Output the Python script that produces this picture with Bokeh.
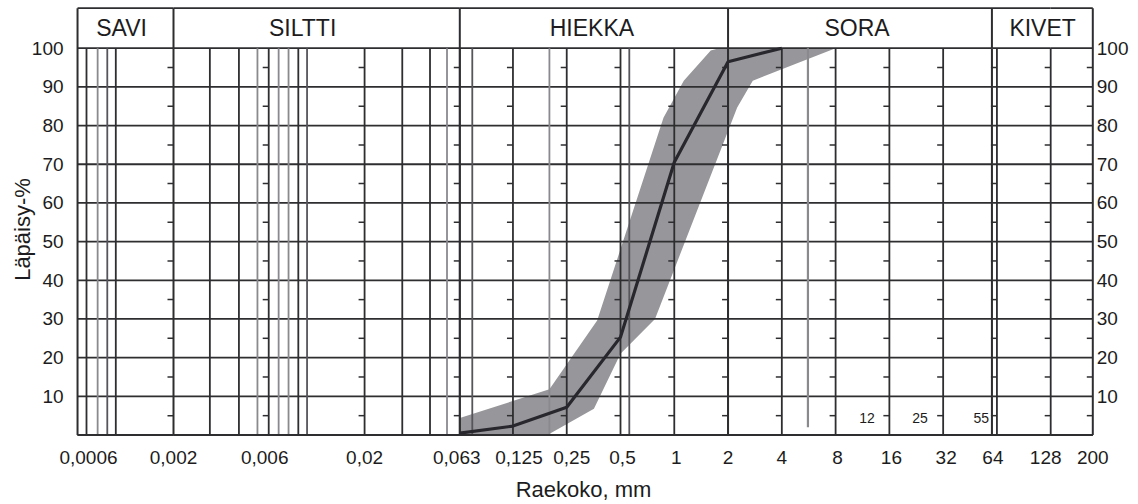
import numpy as np
from bokeh.plotting import figure
from bokeh.models import Range1d, LogScale, Label
from bokeh.core.properties import value
from bokeh.embed import file_html
from bokeh.resources import INLINE

# ---------------- data ----------------
# grading curve: sieve size (mm) -> passing (%)
SIZE_MM = [0.063, 0.125, 0.25, 0.5, 1, 2, 4]
PASSING_PCT = [0.5, 2.3, 7.2, 25.3, 70.5, 96.5, 100]

# grading envelope: fine-side limit and coarse-side limit
ENV_FINE_MM = [0.063, 0.2, 0.37, 0.87, 1.13, 1.6, 1.78, 8]
ENV_FINE_PCT = [4.4, 11.8, 29.6, 82.0, 91.6, 99.4, 100, 100]
ENV_COARSE_MM = [0.063, 0.195, 0.355, 0.5, 0.78, 2.25, 2.75, 8]
ENV_COARSE_PCT = [0, 0, 6.8, 21.0, 30.0, 84.7, 91.6, 100]

# soil classes and their size limits (mm)
CLASS_NAMES = ["SAVI", "SILTTI", "HIEKKA", "SORA", "KIVET"]
CLASS_LIMITS_MM = [0.00053, 0.002, 0.063, 2, 60, 200]

X_TICK_MM = [0.0006, 0.002, 0.006, 0.02, 0.063, 0.125, 0.25, 0.5, 1, 2, 4, 8, 16, 32, 64, 128, 200]
X_TICK_TEXT = ["0,0006", "0,002", "0,006", "0,02", "0,063", "0,125", "0,25", "0,5",
               "1", "2", "4", "8", "16", "32", "64", "128", "200"]
Y_TICKS = [10, 20, 30, 40, 50, 60, 70, 80, 90, 100]

# vertical rulings of the grading form (mm)
GRID_DARK_MM = [0.0006, 0.0009, 0.0031, 0.0044, 0.0063, 0.009, 0.02, 0.0315, 0.044,
                0.063, 0.125, 0.25, 0.5, 1, 2, 4, 8, 16, 32, 64, 128]
GRID_MID_MM = [0.0008, 0.01, 0.074, 0.56]
GRID_LIGHT_MM = [0.0007, 0.0055, 0.0071, 0.008, 0.054, 0.2, 60]
GRID_SHORT_MM = [5.6]
GRID_SHORT_FROM_PCT = 2

# small index marks beside the labelled rulings
MARK_MM = [0.002, 0.0063, 0.02, 0.063, 0.125, 0.25, 0.5, 1, 2, 4, 8, 16, 32, 64, 128, 200]
MARK_PCT = [5, 15, 25, 35, 45, 55, 65, 75, 85, 95]

SIEVE_NOTE_MM = [12, 25, 55]
SIEVE_NOTE_TEXT = ["12", "25", "55"]
SIEVE_NOTE_PCT = 4.4

# ---------------- layout ----------------
W, H = 1138, 504
# the printed size scale is logarithmic, drawn in pieces joined at these sizes
PIECE_MM = [0.0006, 0.002, 0.063, 128, 200]
PIECE_PX = [86.0, 173.0, 459.3, 1050.2, 1092.3]
PIECE_NAMES = ["savi", "siltti", "default", "kivet"]
Y0_PX, Y100_PX, HEAD_TOP_PX = 434.5, 47.7, 7.7
X_TEXT_PX, X_TITLE_PX, Y_TITLE_PX = 457.0, 489.0, 229.0
HEAD_DX = [-4, -14, -2, -3, 4]
X_TEXT_DX = [2, 0, 0, 0, -3, 6, 5, 2, 2, 0, 0, 2, 2, 3, -4, -5, 0]

FONT = value("Liberation Sans")
TXT = "#1c1c20"
DARK, MID, LIGHT = "#2e2e31", "#55555a", "#8a8a8e"
LW = 1.8


def log_range(d0, p0, d1, p1):
    k = (p1 - p0) / (np.log10(d1) - np.log10(d0))
    return 10 ** (np.log10(d0) - p0 / k), 10 ** (np.log10(d0) + (W - p0) / k)


ranges = {}
pieces = []
for i, name in enumerate(PIECE_NAMES):
    ranges[name] = log_range(PIECE_MM[i], PIECE_PX[i], PIECE_MM[i + 1], PIECE_PX[i + 1])
    lo = CLASS_LIMITS_MM[0] if i == 0 else PIECE_MM[i]
    pieces.append((name, lo, PIECE_MM[i + 1]))


def piece_of(d):
    for name, lo, hi in pieces:
        if lo * 0.999 <= d <= hi * 1.001:
            return name
    return "default"


def split(xs, *cols):
    out = {}
    for i, d in enumerate(xs):
        g = out.setdefault(piece_of(d), [[] for _ in range(len(cols) + 1)])
        g[0].append(d)
        for j, c in enumerate(cols):
            g[j + 1].append(c[i])
    return out.items()


upp = 100.0 / (Y0_PX - Y100_PX)
y_start = -(H - Y0_PX) * upp
y_end = 100 + Y100_PX * upp
head_top = 100 + (Y100_PX - HEAD_TOP_PX) * upp
x_text_y = -(X_TEXT_PX - Y0_PX) * upp

p = figure(width=W, height=H, title=None, x_axis_type="log",
           x_axis_location=None, y_axis_location=None,
           x_range=Range1d(*ranges["default"]), y_range=Range1d(y_start, y_end),
           output_backend="svg", toolbar_location=None, min_border=0,
           outline_line_color=None, background_fill_color="white",
           border_fill_color="white")
p.x_scale = LogScale()
p.grid.visible = False
p.extra_x_ranges = {n: Range1d(*ranges[n]) for n in PIECE_NAMES if n != "default"}
p.extra_x_scales = {n: LogScale() for n in PIECE_NAMES if n != "default"}

# envelope
env_x = ENV_FINE_MM + ENV_COARSE_MM[::-1]
env_y = ENV_FINE_PCT + ENV_COARSE_PCT[::-1]
p.patch(env_x, env_y, fill_color="#97979b", line_color=None)

# horizontal rulings, drawn piece by piece
h_levels = [0] + Y_TICKS
for name, lo, hi in pieces:
    n = len(h_levels)
    p.segment(x0=[lo] * n, y0=h_levels, x1=[hi] * n, y1=h_levels,
              line_color=DARK, line_width=LW, x_range_name=name)
    p.segment(x0=[lo], y0=[head_top], x1=[hi], y1=[head_top],
              line_color=DARK, line_width=LW, x_range_name=name)

# vertical rulings
for xs, col in ((GRID_LIGHT_MM, LIGHT), (GRID_MID_MM, MID), (GRID_DARK_MM, DARK)):
    for name, (gx,) in split(xs):
        n = len(gx)
        p.segment(x0=gx, y0=[0] * n, x1=gx, y1=[100] * n, line_color=col,
                  line_width=LW, x_range_name=name)
for name, (gx,) in split(GRID_SHORT_MM):
    n = len(gx)
    p.segment(x0=gx, y0=[GRID_SHORT_FROM_PCT] * n, x1=gx, y1=[100] * n,
              line_color=LIGHT, line_width=2.2, x_range_name=name)

# class dividers in the header band and the outer frame
for name, (gx,) in split(CLASS_LIMITS_MM[1:-1]):
    n = len(gx)
    p.segment(x0=gx, y0=[100] * n, x1=gx, y1=[head_top] * n, line_color=DARK,
              line_width=2, x_range_name=name)
    p.segment(x0=gx, y0=[0] * n, x1=gx, y1=[100] * n, line_color=DARK,
              line_width=2, x_range_name=name)
for d in (CLASS_LIMITS_MM[0], CLASS_LIMITS_MM[-1]):
    p.segment(x0=[d], y0=[0], x1=[d], y1=[head_top], line_color=DARK,
              line_width=2, x_range_name=piece_of(d))
for name, lo, hi in pieces:
    p.segment(x0=[lo], y0=[0], x1=[hi], y1=[0], line_color=DARK,
              line_width=2.2, x_range_name=name)

# index marks
mx = [d for d in MARK_MM for _ in MARK_PCT]
my = [y for _ in MARK_MM for y in MARK_PCT]
for name, (gx, gy) in split(mx, my):
    p.ray(x=gx, y=gy, length=6, angle=np.pi, length_units="screen",
          line_color=DARK, line_width=1.5, x_range_name=name)

# grading curve
p.line(SIZE_MM, PASSING_PCT, line_color="#27272d", line_width=3.2)

# header class names
for i, nm in enumerate(CLASS_NAMES):
    mid = float(np.sqrt(CLASS_LIMITS_MM[i] * CLASS_LIMITS_MM[i + 1]))
    p.text(x=[mid], y=[(100 + head_top) / 2], text=[nm], x_offset=HEAD_DX[i],
           text_font=FONT, text_font_size="23px", text_color=TXT,
           text_align="center", text_baseline="middle", x_range_name=piece_of(mid))

# size labels
for name, (gx, gt, gdx) in split(X_TICK_MM, X_TICK_TEXT, X_TEXT_DX):
    p.text(x=gx, y=[x_text_y] * len(gx), text=gt, x_offset=gdx, text_font=FONT,
           text_font_size="19px", text_color=TXT, text_align="center",
           text_baseline="middle", x_range_name=name)

# passing labels on both sides
n = len(Y_TICKS)
p.text(x=[CLASS_LIMITS_MM[0]] * n, y=Y_TICKS, text=[str(v) for v in Y_TICKS],
       x_offset=-14, text_font=FONT, text_font_size="19px", text_color=TXT,
       text_align="right", text_baseline="middle", x_range_name="savi")
p.text(x=[CLASS_LIMITS_MM[-1]] * n, y=Y_TICKS, text=[str(v) for v in Y_TICKS],
       x_offset=4, text_font=FONT, text_font_size="19px", text_color=TXT,
       text_align="left", text_baseline="middle", x_range_name="kivet")

# sieve notes
p.text(x=SIEVE_NOTE_MM, y=[SIEVE_NOTE_PCT] * len(SIEVE_NOTE_MM), text=SIEVE_NOTE_TEXT,
       x_offset=[0, -4, -4], text_font=FONT, text_font_size="14px", text_color=TXT,
       text_align="center", text_baseline="middle")

# axis titles
p.add_layout(Label(x=583, x_units="screen", y=-(X_TITLE_PX - Y0_PX) * upp,
                   text="Raekoko, mm", text_font="Liberation Sans", text_font_size="22px",
                   text_color=TXT, text_align="center", text_baseline="middle"))
p.add_layout(Label(x=22, x_units="screen", y=(Y0_PX - Y_TITLE_PX) * upp,
                   text="Läpäisy-%", angle=np.pi / 2, text_font="Liberation Sans",
                   text_font_size="22px", text_color=TXT, text_align="center",
                   text_baseline="middle"))

open("out.html", "w").write(file_html(p, INLINE))
